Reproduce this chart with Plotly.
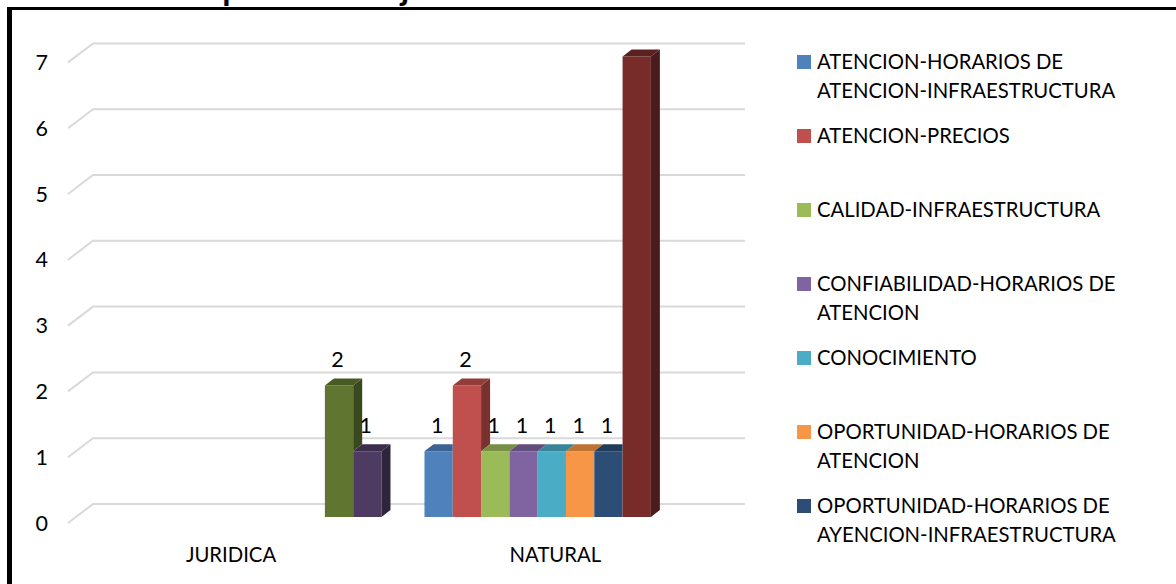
import plotly.graph_objects as go

# Values per client type and per improvement aspect
categories = ["JURIDICA", "NATURAL"]
series_names = [
    "ATENCION-HORARIOS DE<br>ATENCION-INFRAESTRUCTURA",
    "ATENCION-PRECIOS",
    "CALIDAD-INFRAESTRUCTURA",
    "CONFIABILIDAD-HORARIOS DE<br>ATENCION",
    "CONOCIMIENTO",
    "OPORTUNIDAD-HORARIOS DE<br>ATENCION",
    "OPORTUNIDAD-HORARIOS DE<br>AYENCION-INFRAESTRUCTURA",
    "OTROS-1",
    "OTROS-2",
    "OTROS-3",
]
juridica_values = [None, None, None, None, None, None, None, None, 2, 1]
natural_values = [1, 2, 1, 1, 1, 1, 1, 7, None, None]
series_colors = ["#4f81bd", "#c0504d", "#9bbb59", "#8064a2", "#4bacc6",
                 "#f79646", "#2c4d75", "#772c2a", "#5f7530", "#4d3b62"]
y_ticks = [0, 1, 2, 3, 4, 5, 6, 7]
legend_count = 7
title_text = "Gráfico 14. Aspectos a mejorar"

# Page geometry of the plot area, in pixels; (FLOOR_X, FLOOR_Y) is the front corner of the floor
W, H = 1176, 584
LEFT, RIGHT, TOP, BOTTOM = 64, 747, 41, 527
FLOOR_X, FLOOR_Y = 68, 523
PX_X = 1 / 326      # axis units per pixel, horizontal
PX_Y = 1 / 65.8     # axis units per pixel, vertical
FONT = "Lato"
TEXT_SIZE = 20.3
DIGIT_SIZE = 21.5

BAR_W = 28.3 * PX_X
GROUP_START = 0.0935
BAR_FLOOR = 6 * PX_Y
BAR_DX, BAR_DY = 9 * PX_X, 7 * PX_Y
WALL_DX, WALL_DY = 25 * PX_X, 19 * PX_Y


def shade(color, factor):
    r, g, b = (int(color[i:i + 2], 16) for i in (1, 3, 5))
    return f"rgb({int(r * factor)},{int(g * factor)},{int(b * factor)})"


def paper_x(px):
    return (px - LEFT) / (RIGHT - LEFT)


def paper_y(py):
    return (BOTTOM - py) / (BOTTOM - TOP)


def bar_x(cat_index, series_index):
    return cat_index + GROUP_START + series_index * BAR_W


fig = go.Figure()

# Front faces of the columns
for s, (name, color) in enumerate(zip(series_names, series_colors)):
    xs, ys = [], []
    for c, values in enumerate((juridica_values, natural_values)):
        if values[s] is not None:
            xs.append(bar_x(c, s) + BAR_W / 2)
            ys.append(values[s])
    fig.add_trace(go.Bar(x=xs, y=ys, base=BAR_FLOOR, width=BAR_W, name=name.replace("<br>", " "),
                         marker=dict(color=color, line_width=0), showlegend=False,
                         hoverinfo="skip"))

# Side and top faces, cut where the next column in the group stands taller
for c, values in enumerate((juridica_values, natural_values)):
    for s, v in enumerate(values):
        if v is None:
            continue
        next_v = values[s + 1] if s + 1 < len(values) and values[s + 1] is not None else 0
        x0 = bar_x(c, s)
        x1 = x0 + BAR_W
        y1 = v + BAR_FLOOR
        low = next_v + BAR_FLOOR if next_v else BAR_FLOOR
        if next_v < v:
            fig.add_trace(go.Scatter(
                x=[x1, x1 + BAR_DX, x1 + BAR_DX, x1, x1],
                y=[low, low + BAR_DY, y1 + BAR_DY, y1, low],
                mode="lines", fill="toself", line_width=0, fillcolor=shade(series_colors[s], 0.62),
                showlegend=False, hoverinfo="skip"))
        if next_v > v:
            top_x = [x0, x0 + BAR_DX, x1, x1, x0]
        else:
            top_x = [x0, x0 + BAR_DX, x1 + BAR_DX, x1, x0]
        top_y = [y1, y1 + BAR_DY, y1 + BAR_DY, y1, y1]
        fig.add_trace(go.Scatter(x=top_x, y=top_y, mode="lines", fill="toself", line_width=0,
                                 fillcolor=shade(series_colors[s], 0.77),
                                 showlegend=False, hoverinfo="skip"))

# Value labels above the columns
label_x, label_y, label_text = [], [], []
for c, values in enumerate((juridica_values, natural_values)):
    for s, v in enumerate(values):
        if v is not None:
            label_x.append(bar_x(c, s) + BAR_W / 2 - 1.5 * PX_X)
            label_y.append(v + BAR_FLOOR + 24 * PX_Y)
            label_text.append(str(v))
fig.add_trace(go.Scatter(x=label_x, y=label_y, text=label_text, mode="text",
                         textposition="middle center",
                         textfont=dict(family=FONT, size=DIGIT_SIZE, color="#000000"),
                         showlegend=False, hoverinfo="skip"))

# Gridlines run along the floor side and the back wall
shapes = []
x_low = (LEFT - FLOOR_X) * PX_X
x_high = (RIGHT - FLOOR_X) * PX_X
x_end = (745 - FLOOR_X) * PX_X
for v in y_ticks:
    shapes.append(dict(type="path", xref="x", yref="y", layer="below",
                       path=f"M 0 {v} L {WALL_DX} {v + WALL_DY} L {x_end} {v + WALL_DY}",
                       line=dict(color="#d9d9d9", width=2)))

# Frame along the top and left page edges
shapes.append(dict(type="rect", xref="paper", yref="paper", layer="above", line_width=0,
                   fillcolor="#000000", x0=paper_x(7), x1=paper_x(W), y0=paper_y(7), y1=paper_y(10)))
shapes.append(dict(type="rect", xref="paper", yref="paper", layer="above", line_width=0,
                   fillcolor="#000000", x0=paper_x(7), x1=paper_x(12), y0=paper_y(7), y1=paper_y(H)))

# Legend column with fixed row pitch
annotations = []
for i in range(legend_count):
    center = 62 + 74 * i
    shapes.append(dict(type="rect", xref="paper", yref="paper", line_width=0,
                       fillcolor=series_colors[i], x0=paper_x(797), x1=paper_x(811),
                       y0=paper_y(center - 7), y1=paper_y(center + 7)))
    for j, line in enumerate(series_names[i].split("<br>")):
        annotations.append(dict(text=line, xref="paper", yref="paper", x=paper_x(815),
                                y=paper_y(center - 1 + 29 * j), xanchor="left", yanchor="middle",
                                showarrow=False, align="left",
                                font=dict(family=FONT, size=TEXT_SIZE, color="#000000")))

# Heading, running off the top of the page
annotations.append(dict(text=f"<b>{title_text}</b>", xref="paper", yref="paper", x=paper_x(12),
                        y=paper_y(-13), xanchor="left", yanchor="middle", showarrow=False,
                        font=dict(family=FONT, size=33.5, color="#000000")))

fig.update_layout(
    width=W, height=H, autosize=False,
    margin=dict(l=LEFT, r=W - RIGHT, t=TOP, b=H - BOTTOM, pad=0),
    paper_bgcolor="#ffffff", plot_bgcolor="#ffffff",
    barmode="overlay", showlegend=False,
    shapes=shapes, annotations=annotations,
    xaxis=dict(range=[x_low, x_high], tickmode="array", tickvals=[0.5, 1.495], ticktext=categories,
               showgrid=False, zeroline=False, showline=False, ticks="",
               ticklabelstandoff=14,
               tickfont=dict(family=FONT, size=TEXT_SIZE, color="#000000")),
    yaxis=dict(range=[(FLOOR_Y - BOTTOM) * PX_Y, (FLOOR_Y - TOP) * PX_Y],
               tickmode="array", tickvals=y_ticks,
               showgrid=False, zeroline=False, showline=False, ticks="",
               ticklabelstandoff=15,
               tickfont=dict(family=FONT, size=DIGIT_SIZE, color="#000000")),
)

fig.write_html("out.html")
